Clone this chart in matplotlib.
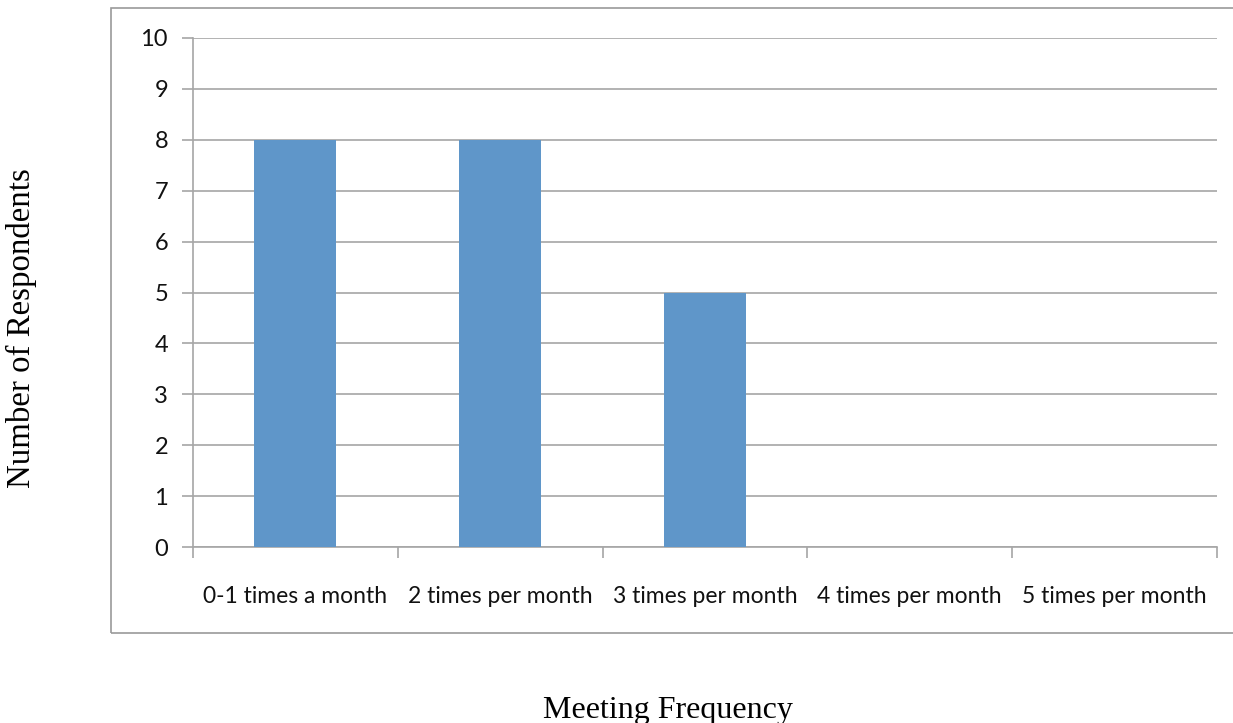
import matplotlib
matplotlib.use("Agg")
import matplotlib.pyplot as plt
from matplotlib.patches import Rectangle

# Survey results: how often respondents meet
categories = ["0-1 times a month", "2 times per month", "3 times per month",
              "4 times per month", "5 times per month"]
respondents = [8, 8, 5, 0, 0]
y_ticks = list(range(0, 11))

bar_color = "#5f96c9"
grid_color = "#a6a6a6"
tick_font = "Lato"

fig = plt.figure(figsize=(12.33, 7.23), dpi=100)
ax = fig.add_axes([193 / 1233, 1 - 547 / 723, (1217 - 193) / 1233, (547 - 38) / 723])

x = list(range(len(categories)))
ax.bar(x, respondents, width=0.4, color=bar_color, zorder=3)

ax.set_xlim(-0.5, len(categories) - 0.5)
ax.set_ylim(0, 10)
ax.set_yticks(y_ticks)
ax.set_yticklabels([str(t) for t in y_ticks], fontsize=17, family=tick_font, color="#111111")
ax.yaxis.grid(True, color=grid_color, linewidth=1.2, zorder=0)

# category labels sit between boundary ticks
ax.set_xticks(x)
ax.set_xticklabels(categories, fontsize=16.5, family=tick_font, color="#111111")
ax.tick_params(axis="x", length=0, pad=28)
ax.set_xticks([i - 0.5 for i in range(len(categories) + 1)], minor=True)
ax.tick_params(axis="x", which="minor", length=8, color=grid_color, width=1.2)
ax.tick_params(axis="y", length=8, color=grid_color, width=1.2, pad=10)

for side in ["top", "right"]:
    ax.spines[side].set_visible(False)
for side in ["left", "bottom"]:
    ax.spines[side].set_color(grid_color)
    ax.spines[side].set_linewidth(1.2)

# outer chart border
fig.patches.append(Rectangle((111 / 1233, 1 - 633 / 723), 1.2, (633 - 8) / 723,
                             transform=fig.transFigure, fill=False,
                             edgecolor="#9a9a9a", linewidth=1.2))

fig.text(21 / 1233, 1 - 328 / 723, "Number of Respondents", rotation=90,
         ha="center", va="center", family="Liberation Serif", fontsize=23.7)
fig.text(668 / 1233, 1 - 718 / 723, "Meeting Frequency",
         ha="center", va="baseline", family="Liberation Serif", fontsize=23)

fig.savefig("out.png", dpi=100)
